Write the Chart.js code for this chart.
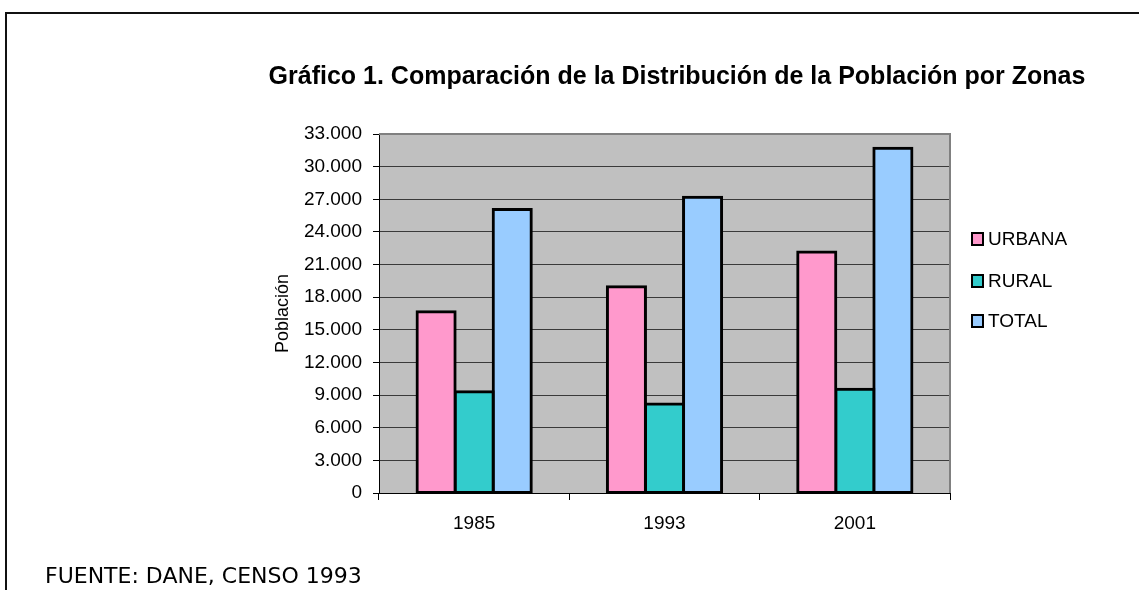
<!DOCTYPE html>
<html>
<head>
<meta charset="utf-8">
<script src="https://cdn.jsdelivr.net/npm/chart.js@4.4.1/dist/chart.umd.min.js"></script>
<style>
  html, body { margin: 0; padding: 0; background: #fff; }
  #wrap { position: relative; width: 1139px; height: 590px; overflow: hidden; }
  #frame {
    position: absolute; left: 5px; top: 12px; right: -4px; bottom: -4px;
    border-top: 2px solid #111; border-left: 2px solid #111;
  }
  #chart { position: absolute; left: 0; top: 0; }
</style>
</head>
<body>
<div id="wrap">
  <div id="frame"></div>
  <canvas id="chart" width="1139" height="590"></canvas>
</div>
<script>
// -- data
const years = ["1985", "1993", "2001"];
const urbana = [16650, 18950, 22150];
const rural = [9300, 8180, 9530];
const total = [26050, 27180, 31700];

const titleText = "Gráfico 1. Comparación de la Distribución de la Población por Zonas";
const yTitle = "Población";
const sourceText = "FUENTE: DANE, CENSO 1993";

// 33.000 style labels
function fmt(v) {
  return String(v).replace(/\B(?=(\d{3})+(?!\d))/g, ".");
}

// plot background + frame, title, legend, footer
const decor = {
  id: "decor",
  beforeDraw(chart) {
    const { ctx, chartArea: a } = chart;
    ctx.save();
    ctx.fillStyle = "#c0c0c0";
    ctx.fillRect(a.left, a.top, a.right - a.left, a.bottom - a.top);
    ctx.restore();
  },
  afterDraw(chart) {
    const { ctx, chartArea: a } = chart;
    ctx.save();
    // gray top / right edge of plot
    ctx.strokeStyle = "#808080";
    ctx.lineWidth = 2;
    ctx.beginPath();
    ctx.moveTo(a.left, a.top);
    ctx.lineTo(a.right, a.top);
    ctx.lineTo(a.right, a.bottom);
    ctx.stroke();

    // title
    ctx.fillStyle = "#000";
    ctx.font = "bold 25px 'Liberation Sans', Arial, sans-serif";
    ctx.textAlign = "center";
    ctx.textBaseline = "alphabetic";
    ctx.fillText(titleText, 677, 84);

    // legend
    ctx.font = "19px 'Liberation Sans', Arial, sans-serif";
    ctx.textAlign = "left";
    ctx.textBaseline = "middle";
    const rows = [239, 281, 321];
    chart.data.datasets.forEach((ds, i) => {
      const y = rows[i];
      ctx.fillStyle = ds.backgroundColor;
      ctx.fillRect(972, y - 6, 11, 12);
      ctx.strokeStyle = "#000";
      ctx.lineWidth = 2;
      ctx.strokeRect(972, y - 6, 11, 12);
      ctx.fillStyle = "#000";
      ctx.fillText(ds.label, 988, y + 1);
    });

    // source
    ctx.font = "22px 'DejaVu Sans', sans-serif";
    ctx.textBaseline = "alphabetic";
    ctx.fillText(sourceText, 45, 583);
    ctx.restore();
  },
};

const ctx = document.getElementById("chart").getContext("2d");
new Chart(ctx, {
  type: "bar",
  data: {
    labels: years,
    datasets: [
      { label: "URBANA", data: urbana, backgroundColor: "#ff99cc" },
      { label: "RURAL", data: rural, backgroundColor: "#33cccc" },
      { label: "TOTAL", data: total, backgroundColor: "#99ccff" },
    ].map((d) => ({
      ...d,
      borderColor: "#000",
      borderWidth: 3,
      borderSkipped: false,
      inflateAmount: 1.5,
      categoryPercentage: 0.6,
      barPercentage: 1.0,
    })),
  },
  options: {
    responsive: false,
    animation: false,
    layout: { padding: { left: 250, top: 134, right: 189, bottom: 40 } },
    plugins: {
      legend: { display: false },
      title: { display: false },
      tooltip: { enabled: false },
    },
    scales: {
      x: {
        afterFit: (s) => { s.height = 57; },
        grid: {
          offset: true,
          drawOnChartArea: false,
          drawTicks: true,
          tickLength: 7,
          tickColor: "#000",
        },
        border: { display: true, color: "#000", width: 1 },
        ticks: {
          color: "#000",
          padding: 12,
          font: { family: "'Liberation Sans', Arial, sans-serif", size: 19 },
        },
      },
      y: {
        min: 0,
        max: 33000,
        afterFit: (s) => { s.width = 129; },
        grid: {
          color: "#3a3a3a",
          lineWidth: 1,
          tickLength: 6,
          tickColor: "#000",
        },
        border: { display: true, color: "#000", width: 1 },
        ticks: {
          stepSize: 3000,
          color: "#000",
          padding: 11,
          callback: (v) => fmt(v),
          font: { family: "'Liberation Sans', Arial, sans-serif", size: 19 },
        },
        title: {
          display: true,
          text: yTitle,
          color: "#000",
          padding: { top: 22, bottom: 0 },
          font: { family: "'Liberation Sans', Arial, sans-serif", size: 18 },
        },
      },
    },
  },
  plugins: [decor],
});
</script>
</body>
</html>
